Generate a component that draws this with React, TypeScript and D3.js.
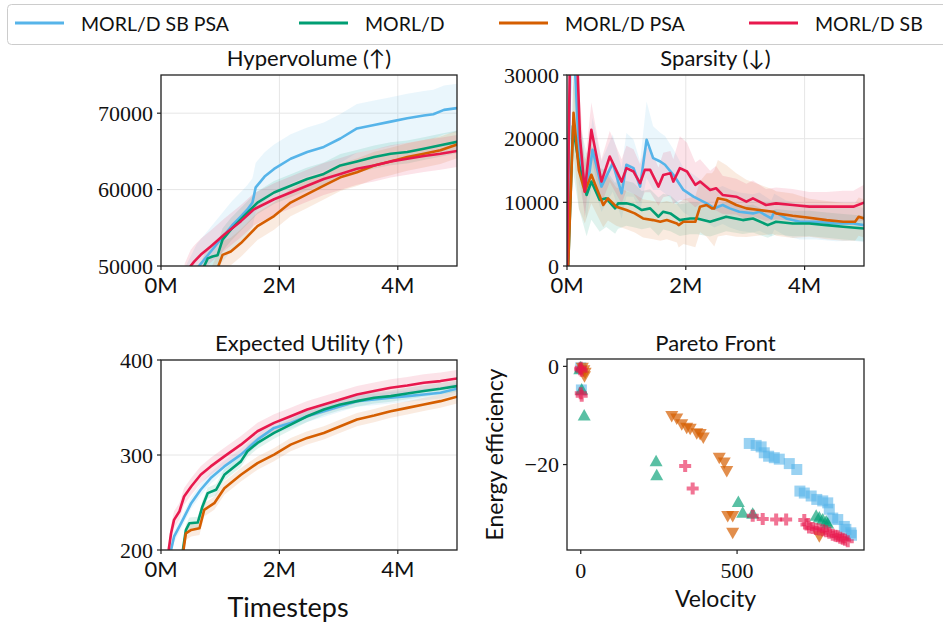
import React from "react";
import * as d3 from "d3";

// ---------------- data ----------------
const SERIES_NAMES = ["MORL/D SB PSA", "MORL/D", "MORL/D PSA", "MORL/D SB"];
const SERIES_COLORS = ["#56B4E9", "#009E73", "#D55E00", "#E8184D"];

// Hypervolume (timesteps in millions)
const hvBlueT = [0.4, 0.6, 0.8, 1.0, 1.2, 1.35, 1.46, 1.545, 1.6, 1.75, 1.91, 2.19, 2.47, 2.75, 3.03, 3.31, 3.6, 3.88, 4.16, 4.44, 4.6, 4.78, 5.0];
const hvBlueV = [46500, 49600, 51500, 53400, 55300, 56500, 57400, 58300, 60300, 61700, 62700, 64040, 64920, 65590, 66690, 68010, 68450, 68900, 69340, 69690, 69870, 70440, 70660];
const hvGreenT = [0.6, 0.73, 0.79, 0.87, 0.955, 1.04, 1.18, 1.4, 1.63, 1.91, 2.19, 2.47, 2.75, 3.03, 3.31, 3.6, 3.88, 4.16, 4.44, 4.72, 5.0];
const hvGreenV = [47500, 50000, 51000, 51240, 51400, 53440, 54770, 56530, 58300, 59620, 60510, 61390, 62050, 63160, 63690, 64260, 64700, 64920, 65360, 65810, 66250];
const hvOrangeT = [0.85, 0.97, 1.04, 1.18, 1.35, 1.63, 1.91, 2.19, 2.47, 2.75, 3.03, 3.31, 3.6, 3.88, 4.16, 4.44, 4.72, 5.0];
const hvOrangeV = [48000, 50000, 51460, 51900, 53000, 55210, 56530, 58300, 59400, 60510, 61610, 62270, 63160, 63690, 64260, 64700, 65140, 65890];
const hvRedT = [0.4, 0.5, 0.56, 0.67, 0.84, 1.07, 1.35, 1.57, 1.91, 2.19, 2.47, 2.75, 3.03, 3.31, 3.6, 3.88, 4.16, 4.44, 4.72, 5.0];
const hvRedV = [48200, 50000, 50570, 51460, 52560, 54110, 55870, 57420, 58740, 59620, 60510, 61390, 62050, 62720, 63160, 63690, 64040, 64390, 64700, 65060];
const hvStd = [3200, 1500, 1800, 2100];

// Sparsity
const spBlueT = [0, 0.07, 0.13, 0.2, 0.33, 0.43, 0.58, 0.77, 0.92, 1.0, 1.12, 1.23, 1.34, 1.45, 1.57, 1.65, 1.79, 1.96, 2.13, 2.35, 2.48, 2.62, 2.74, 2.9, 3.13, 3.24, 3.44, 3.49, 3.69, 3.92, 4.2, 4.53, 4.82, 5.0];
const spBlueV = [0, 40000, 32000, 18000, 11420, 18260, 12470, 16160, 11420, 15900, 15370, 12470, 19840, 16950, 16420, 15900, 14320, 11950, 10890, 9840, 9050, 9580, 9050, 8530, 8260, 8530, 7470, 8530, 7470, 6950, 6950, 6680, 6680, 6420];
const spBlueS = [0, 8000, 7000, 5000, 4000, 5000, 4000, 4500, 4000, 5000, 4500, 4000, 6000, 5000, 4500, 4500, 4000, 3500, 3500, 3000, 3000, 3000, 3000, 3000, 3000, 3000, 2800, 2800, 2800, 2800, 2800, 2800, 2700, 2700];
const spGreenT = [0.02, 0.1, 0.2, 0.33, 0.41, 0.55, 0.66, 0.81, 0.86, 1.0, 1.12, 1.26, 1.4, 1.54, 1.62, 1.74, 1.9, 2.07, 2.19, 2.41, 2.68, 2.96, 3.13, 3.38, 3.52, 3.8, 4.08, 4.37, 4.65, 5.0];
const spGreenV = [0, 22000, 16000, 11160, 13260, 10370, 10630, 9050, 9840, 9840, 9580, 8790, 9050, 7740, 8530, 8260, 7210, 7470, 7470, 6950, 7740, 7210, 7470, 6420, 6950, 6680, 6680, 6420, 6160, 5890];
const spGreenS = [0, 7000, 7000, 6500, 6000, 5000, 4500, 4000, 4000, 3500, 3500, 3000, 3000, 3000, 2800, 2800, 2500, 2500, 2500, 2300, 2300, 2200, 2200, 2000, 2000, 2000, 2000, 2000, 2000, 2000];
const spOrangeT = [0.02, 0.11, 0.2, 0.3, 0.41, 0.61, 0.69, 0.83, 1.0, 1.14, 1.28, 1.45, 1.57, 1.68, 1.85, 1.88, 1.96, 2.16, 2.24, 2.35, 2.44, 2.48, 2.54, 2.68, 2.85, 3.02, 3.24, 3.47, 3.52, 3.8, 4.08, 4.37, 4.65, 4.85, 4.91, 5.0];
const spOrangeV = [0, 24050, 15000, 11680, 14320, 9580, 10630, 9320, 8790, 8260, 7470, 7210, 6950, 7210, 6680, 6420, 6950, 6950, 9320, 9580, 9050, 9050, 10630, 10370, 9580, 9050, 8790, 8530, 8260, 7890, 7580, 7210, 6950, 6950, 7740, 7470];
const spOrangeS = [0, 6000, 6000, 5000, 4500, 3500, 3500, 3000, 3000, 3000, 3000, 3000, 3000, 3000, 3000, 3500, 3500, 4000, 4000, 5000, 5500, 6000, 6000, 5500, 5000, 4500, 4000, 3500, 3500, 3500, 3000, 3000, 3000, 3000, 3000, 3000];
const spRedT = [0, 0.06, 0.15, 0.22, 0.3, 0.41, 0.58, 0.72, 0.92, 1.0, 1.12, 1.23, 1.31, 1.4, 1.54, 1.62, 1.74, 1.79, 1.9, 2.02, 2.16, 2.24, 2.41, 2.51, 2.62, 2.85, 3.02, 3.13, 3.35, 3.52, 3.8, 4.08, 4.37, 4.65, 4.82, 5.0];
const spRedV = [0, 40000, 38000, 20000, 11700, 21400, 13260, 17200, 13260, 15370, 14840, 13000, 15100, 15100, 12470, 14300, 14580, 13260, 15370, 14840, 12740, 13260, 11950, 12210, 11160, 10890, 10100, 10630, 9580, 9840, 9580, 9320, 9320, 9320, 9320, 9950];
const spRedS = [0, 8000, 8000, 6000, 4000, 4300, 3500, 4000, 3500, 3500, 3500, 3000, 3500, 3500, 3000, 3500, 3500, 3500, 5000, 4500, 3500, 3500, 3000, 3500, 3000, 2800, 2800, 2800, 2500, 2500, 2500, 2300, 2300, 2500, 2500, 2800];

// Expected utility
const euBlueT = [0.14, 0.17, 0.22, 0.34, 0.51, 0.67, 0.84, 1.07, 1.35, 1.63, 1.91, 2.19, 2.47, 2.75, 3.03, 3.31, 3.6, 3.88, 4.16, 4.44, 4.72, 5.0];
const euBlueV = [190, 200, 214, 228.2, 249.3, 263.4, 275.7, 288, 300.4, 316.2, 328.5, 333.8, 340.8, 346.1, 351.4, 356.7, 358.5, 360.2, 362, 363.7, 365.5, 369.7];
const euGreenT = [0.34, 0.37, 0.42, 0.48, 0.62, 0.7, 0.79, 0.93, 1.07, 1.35, 1.46, 1.63, 1.91, 2.19, 2.47, 2.75, 3.03, 3.31, 3.6, 3.88, 4.16, 4.44, 4.72, 5.0];
const euGreenV = [190, 200, 221, 228.2, 228.9, 245.8, 259.9, 263.4, 279.2, 293.3, 303.9, 312.7, 323.2, 332, 340.8, 347.9, 353.2, 356.7, 360.2, 362, 364.8, 367.3, 369.7, 372.5];
const euOrangeT = [0.35, 0.38, 0.42, 0.51, 0.65, 0.73, 0.9, 1.07, 1.35, 1.63, 1.91, 2.19, 2.47, 2.75, 3.03, 3.31, 3.6, 3.88, 4.16, 4.44, 4.72, 5.0];
const euOrangeV = [190, 200, 217.6, 221.1, 222.9, 242.3, 249.3, 265.1, 279.2, 291.5, 300.4, 310.9, 318, 323.2, 330.3, 337.3, 341.5, 346.1, 349.6, 353.2, 356.7, 361.3];
const euRedT = [0.1, 0.13, 0.17, 0.22, 0.31, 0.39, 0.51, 0.67, 0.84, 1.07, 1.35, 1.63, 1.91, 2.19, 2.47, 2.75, 3.03, 3.31, 3.6, 3.88, 4.16, 4.44, 4.72, 5.0];
const euRedV = [190, 200, 217.6, 231.7, 240.5, 256.3, 266.9, 279.2, 288, 298.6, 310.9, 325, 333.8, 340.8, 347.9, 353.2, 358.5, 363.7, 367.3, 370.8, 373.2, 376.1, 377.8, 380.6];
const euStd = [6, 6, 7, 9];

// Pareto front: [velocity, energy efficiency]
const pfBlue: [number, number][] = [[0, -0.3], [2, -4.8], [539, -15.7], [561, -16.1], [577, -16.4], [587, -17.6], [601, -18.3], [619, -18.6], [635, -18.9], [667, -19.8], [691, -21.0], [701, -25.4], [715, -25.8], [737, -26.4], [755, -27.1], [774, -27.4], [790, -27.8], [795, -29.1], [806, -30.9], [822, -31.2], [843, -32.6], [848, -33.2], [864, -33.9], [866, -34.4]];
const pfGreen: [number, number][] = [[0, -0.2], [-3, -0.6], [3, -4.7], [11, -10], [241, -19.3], [243, -22.2], [504, -27.6], [518, -29.8], [550, -30.0], [753, -30.4], [763, -30.8], [774, -31.2], [785, -31.6], [790, -32]];
const pfOrange: [number, number][] = [[5, -0.3], [10, -0.8], [14, -1.3], [12, -2], [291, -10.1], [307, -10.6], [323, -11.8], [339, -12.5], [350, -12.7], [371, -13.6], [382, -13.8], [392, -14.5], [443, -18.6], [459, -19.6], [467, -21.3], [470, -30.5], [486, -30.5], [486, -33.9], [763, -34.6]];
const pfRed: [number, number][] = [[0, -0.3], [-2, -0.6], [3, -0.9], [3, -6.0], [0, -5.5], [334, -20.3], [358, -24.9], [550, -30.4], [582, -31.1], [625, -31.2], [657, -31.2], [715, -31.3], [722, -32.2], [730, -32.8], [742, -32.9], [752, -33.1], [763, -33.2], [775, -33.4], [785, -33.6], [795, -33.9], [806, -34.3], [815, -34.5], [822, -34.6], [830, -34.9], [838, -35.1], [845, -35.3], [854, -35.6]];

const xTicksM = [0, 2, 4];
const hvYTicks = [50000, 60000, 70000];
const spYTicks = [0, 10000, 20000, 30000];
const euYTicks = [200, 300, 400];
const pfXTicks = [0, 500];
const pfYTicks = [0, -20];

// ---------------- styles ----------------
const SANS = "Lato, 'Open Sans', 'DejaVu Sans', sans-serif";
const SERIF = "'Liberation Serif', 'DejaVu Serif', serif";
const TICK_FS = 22;
const GRID = "#e6e6e6";
const SPINE = "#222";

type Curve = { t: number[]; v: number[]; s: number[] | number; color: string };

type Box = { x0: number; x1: number; y0: number; y1: number };

function Frame({ box }: { box: Box }) {
  return (
    <rect x={box.x0} y={box.y0} width={box.x1 - box.x0} height={box.y1 - box.y0}
      fill="none" stroke={SPINE} strokeWidth={1.3} />
  );
}

function CurvePanel({ id, box, yDomain, yTicks, title, curves }: {
  id: string; box: Box; yDomain: [number, number]; yTicks: number[]; title: string; curves: Curve[];
}) {
  const x = d3.scaleLinear().domain([0, 5]).range([box.x0, box.x1]);
  const y = d3.scaleLinear().domain(yDomain).range([box.y1, box.y0]);
  return (
    <g>
      <defs>
        <clipPath id={id}>
          <rect x={box.x0} y={box.y0} width={box.x1 - box.x0} height={box.y1 - box.y0} />
        </clipPath>
      </defs>
      {/* grid */}
      {xTicksM.map((t) => (
        <line key={"gx" + t} x1={x(t)} x2={x(t)} y1={box.y0} y2={box.y1} stroke={GRID} strokeWidth={1} />
      ))}
      {yTicks.map((v) => (
        <line key={"gy" + v} x1={box.x0} x2={box.x1} y1={y(v)} y2={y(v)} stroke={GRID} strokeWidth={1} />
      ))}
      <g clipPath={`url(#${id})`}>
        {curves.map((c, i) => {
          const idx = d3.range(c.t.length);
          const sd = (k: number) => (Array.isArray(c.s) ? c.s[k] : c.s);
          const area = d3.area<number>()
            .x((k) => x(c.t[k]))
            .y0((k) => y(c.v[k] - sd(k)))
            .y1((k) => y(c.v[k] + sd(k)))
            .curve(d3.curveLinear);
          return <path key={"a" + i} d={area(idx) || ""} fill={c.color} fillOpacity={0.12} stroke="none" />;
        })}
        {curves.map((c, i) => {
          const idx = d3.range(c.t.length);
          const line = d3.line<number>().x((k) => x(c.t[k])).y((k) => y(c.v[k]));
          return (
            <path key={"l" + i} d={line(idx) || ""} fill="none" stroke={c.color} strokeWidth={2.6}
              strokeLinejoin="round" strokeLinecap="round" />
          );
        })}
      </g>
      <Frame box={box} />
      {/* x ticks */}
      {xTicksM.map((t) => (
        <g key={"tx" + t}>
          <line x1={x(t)} x2={x(t)} y1={box.y1} y2={box.y1 + 4} stroke={SPINE} strokeWidth={1.2} />
          <text x={x(t)} y={box.y1 + 27} textAnchor="middle" fontFamily={SANS} fontSize={TICK_FS} fill="#111">
            {`${t}M`}
          </text>
        </g>
      ))}
      {/* y ticks */}
      {yTicks.map((v) => (
        <g key={"ty" + v}>
          <line x1={box.x0 - 4} x2={box.x0} y1={y(v)} y2={y(v)} stroke={SPINE} strokeWidth={1.2} />
          <text x={box.x0 - 8} y={y(v)} dy="0.35em" textAnchor="end" fontFamily={SERIF} fontSize={TICK_FS} fill="#111">
            {String(v)}
          </text>
        </g>
      ))}
      <text x={(box.x0 + box.x1) / 2} y={box.y0 - 9} textAnchor="middle" fontFamily={SANS} fontSize={22} fill="#111">
        {title}
      </text>
    </g>
  );
}

function markerPath(kind: string): string {
  if (kind === "square") return "M-5.5,-5.5L5.5,-5.5L5.5,5.5L-5.5,5.5Z";
  if (kind === "up") return "M0,-6.5L6.5,5L-6.5,5Z";
  if (kind === "down") return "M0,6.5L6.5,-5L-6.5,-5Z";
  // plus
  return "M-2,-6L2,-6L2,-2L6,-2L6,2L2,2L2,6L-2,6L-2,2L-6,2L-6,-2L-2,-2Z";
}

function ParetoPanel({ box }: { box: Box }) {
  const x = d3.scaleLinear().domain([-44, 906]).range([box.x0, box.x1]);
  const y = d3.scaleLinear().domain([-37.4, 1.5]).range([box.y1, box.y0]);
  const sets: { pts: [number, number][]; kind: string; color: string; op: number }[] = [
    { pts: pfBlue, kind: "square", color: SERIES_COLORS[0], op: 0.6 },
    { pts: pfGreen, kind: "up", color: SERIES_COLORS[1], op: 0.65 },
    { pts: pfOrange, kind: "down", color: SERIES_COLORS[2], op: 0.7 },
    { pts: pfRed, kind: "plus", color: SERIES_COLORS[3], op: 0.6 },
  ];
  return (
    <g>
      <defs>
        <clipPath id="pfclip">
          <rect x={box.x0} y={box.y0} width={box.x1 - box.x0} height={box.y1 - box.y0} />
        </clipPath>
      </defs>
      <g clipPath="url(#pfclip)">
        {sets.map((s, i) => (
          <g key={i}>
            {s.pts.map((p, j) => (
              <path key={j} d={markerPath(s.kind)} transform={`translate(${x(p[0])},${y(p[1])})`}
                fill={s.color} fillOpacity={s.op} stroke="none" />
            ))}
          </g>
        ))}
      </g>
      <Frame box={box} />
      {pfXTicks.map((t) => (
        <g key={"px" + t}>
          <line x1={x(t)} x2={x(t)} y1={box.y1} y2={box.y1 + 4} stroke={SPINE} strokeWidth={1.2} />
          <text x={x(t)} y={box.y1 + 28} textAnchor="middle" fontFamily={SERIF} fontSize={TICK_FS} fill="#111">
            {String(t)}
          </text>
        </g>
      ))}
      {pfYTicks.map((v) => (
        <g key={"py" + v}>
          <line x1={box.x0 - 4} x2={box.x0} y1={y(v)} y2={y(v)} stroke={SPINE} strokeWidth={1.2} />
          <text x={box.x0 - 8} y={y(v)} dy="0.35em" textAnchor="end" fontFamily={SERIF} fontSize={TICK_FS} fill="#111">
            {v < 0 ? "\u2212" + Math.abs(v) : String(v)}
          </text>
        </g>
      ))}
      <text x={(box.x0 + box.x1) / 2} y={box.y0 - 8} textAnchor="middle" fontFamily={SANS} fontSize={22} fill="#111">
        Pareto Front
      </text>
      <text x={(box.x0 + box.x1) / 2} y={box.y1 + 57} textAnchor="middle" fontFamily={SANS} fontSize={23} fill="#111">
        Velocity
      </text>
      <text transform={`translate(${box.x0 - 64},${(box.y0 + box.y1) / 2}) rotate(-90)`} textAnchor="middle"
        fontFamily={SANS} fontSize={23} fill="#111">
        Energy efficiency
      </text>
    </g>
  );
}

function Legend() {
  const lineX = [15, 299, 499, 749];
  const textX = [81, 365, 565, 815];
  return (
    <g>
      <rect x={7.5} y={4.5} width={960} height={40} rx={4} fill="#fff" fillOpacity={0.85} stroke="#cccccc" strokeWidth={1} />
      {SERIES_NAMES.map((n, i) => (
        <g key={n}>
          <line x1={lineX[i]} x2={lineX[i] + 49} y1={23} y2={23} stroke={SERIES_COLORS[i]} strokeWidth={3} />
          <text x={textX[i]} y={30.5} fontFamily={SANS} fontSize={19.5} fill="#111">{n}</text>
        </g>
      ))}
    </g>
  );
}

export default function App() {
  const hvBox: Box = { x0: 161, x1: 457, y0: 75, y1: 266 };
  const spBox: Box = { x0: 567, x1: 864, y0: 75, y1: 266 };
  const euBox: Box = { x0: 161, x1: 457, y0: 360, y1: 550 };
  const pfBox: Box = { x0: 567, x1: 864, y0: 359, y1: 550 };

  const hvCurves: Curve[] = [
    { t: hvBlueT, v: hvBlueV, s: hvStd[0], color: SERIES_COLORS[0] },
    { t: hvGreenT, v: hvGreenV, s: hvStd[1], color: SERIES_COLORS[1] },
    { t: hvOrangeT, v: hvOrangeV, s: hvStd[2], color: SERIES_COLORS[2] },
    { t: hvRedT, v: hvRedV, s: hvStd[3], color: SERIES_COLORS[3] },
  ];
  const spCurves: Curve[] = [
    { t: spBlueT, v: spBlueV, s: spBlueS, color: SERIES_COLORS[0] },
    { t: spGreenT, v: spGreenV, s: spGreenS, color: SERIES_COLORS[1] },
    { t: spOrangeT, v: spOrangeV, s: spOrangeS, color: SERIES_COLORS[2] },
    { t: spRedT, v: spRedV, s: spRedS, color: SERIES_COLORS[3] },
  ];
  const euCurves: Curve[] = [
    { t: euBlueT, v: euBlueV, s: euStd[0], color: SERIES_COLORS[0] },
    { t: euGreenT, v: euGreenV, s: euStd[1], color: SERIES_COLORS[1] },
    { t: euOrangeT, v: euOrangeV, s: euStd[2], color: SERIES_COLORS[2] },
    { t: euRedT, v: euRedV, s: euStd[3], color: SERIES_COLORS[3] },
  ];

  return (
    <svg width={943} height={626} style={{ position: "absolute", left: 0, top: 0, background: "#fff" }}>
      <rect x={0} y={0} width={943} height={626} fill="#fff" />
      <CurvePanel id="hvclip" box={hvBox} yDomain={[50000, 75000]} yTicks={hvYTicks} title="Hypervolume (↑)" curves={hvCurves} />
      <CurvePanel id="spclip" box={spBox} yDomain={[0, 30000]} yTicks={spYTicks} title="Sparsity (↓)" curves={spCurves} />
      <CurvePanel id="euclip" box={euBox} yDomain={[200, 400]} yTicks={euYTicks} title="Expected Utility (↑)" curves={euCurves} />
      <ParetoPanel box={pfBox} />
      <text x={288} y={617} textAnchor="middle" fontFamily={SANS} fontSize={27} fill="#111">Timesteps</text>
      <Legend />
    </svg>
  );
}
